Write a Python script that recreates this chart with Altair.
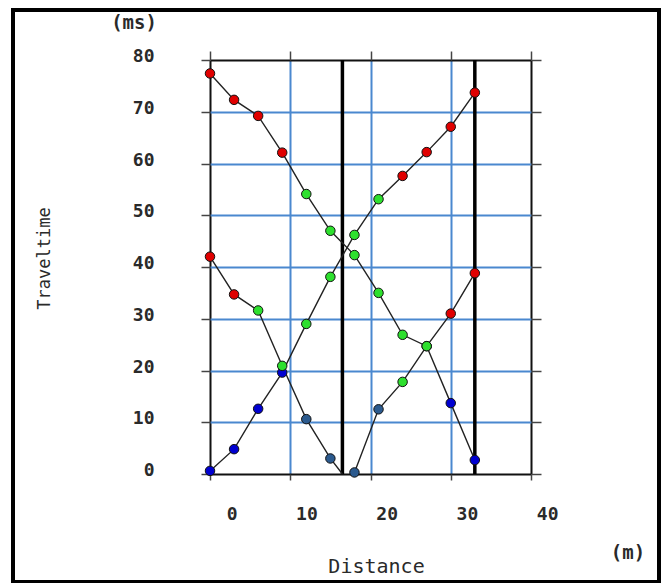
import altair as alt
import pandas as pd

# ---- data ----
dist = [0, 3, 6, 9, 12, 15, 18, 21, 24, 27, 30, 33]

t_a = [77.4, 72.3, 69.2, 62.1, 54.1, 47.0, 42.3, 35.0, 26.9, 24.7, 13.7, 2.7]
c_a = ["red", "red", "red", "red", "green", "green", "green", "green", "green", "green", "blue", "blue"]

t_b = [0.6, 4.8, 12.6, 19.6, 29.0, 38.1, 46.2, 53.1, 57.6, 62.2, 67.1, 73.7]
c_b = ["blue", "blue", "blue", "blue", "green", "green", "green", "green", "red", "red", "red", "red"]

dist_c = [0, 3, 6, 9, 12, 15, 16.5]
t_c = [42.0, 34.7, 31.6, 20.9, 10.6, 3.0, 0.0]
c_c = ["red", "red", "green", "green", "steel", "steel", ""]

dist_d = [18, 21, 24, 27, 30, 33]
t_d = [0.3, 12.5, 17.8, 24.7, 31.0, 38.8]
c_d = ["steel", "steel", "green", "green", "red", "red"]

shots = [16.5, 33]

x_ticks = [0, 10, 20, 30, 40]
y_ticks = [0, 10, 20, 30, 40, 50, 60, 70, 80]

classes = ["red", "green", "blue", "steel"]
class_colors = ["#e00000", "#2ee02e", "#0000d0", "#2b5a8e"]

rows = []
for name, xs, ts, cs in [("A", dist, t_a, c_a), ("B", dist, t_b, c_b),
                         ("C", dist_c, t_c, c_c), ("D", dist_d, t_d, c_d)]:
    for i, (x, t, c) in enumerate(zip(xs, ts, cs)):
        rows.append({"series": name, "x": x, "t": t, "cls": c, "i": i})
df = pd.DataFrame(rows)
shots_df = pd.DataFrame({"x": shots})

FONT = "DejaVu Sans Mono"
TXT = "#2a2a2a"
BLUE = "#4a88cf"

xs = alt.Scale(domain=[0, 40])
ys = alt.Scale(domain=[0, 80])

grid_x = {"condition": {"test": "datum.value == 0 || datum.value == 40", "value": "#111111"}, "value": BLUE}
grid_y = {"condition": {"test": "datum.value == 0 || datum.value == 80", "value": "#111111"}, "value": BLUE}

axes_main = alt.Chart(df).mark_point(opacity=0).encode(
    x=alt.X("x:Q", scale=xs, axis=alt.Axis(
        orient="bottom", values=x_ticks, grid=True, gridColor=grid_x, gridWidth=2,
        domain=False, tickSize=6, tickColor="#444", tickWidth=1.5,
        labelAlign="right", labelOffset=27, labelPadding=25, labelFont=FONT,
        labelFontSize=18, labelColor=TXT, labelFontWeight="bold",
        title="Distance", titleFont=FONT, titleFontSize=20, titleColor=TXT,
        titleFontWeight="normal", titleX=166, titleY=98, titleBaseline="alphabetic",
        titleAlign="center")),
    y=alt.Y("t:Q", scale=ys, axis=alt.Axis(
        orient="left", values=y_ticks, grid=True, gridColor=grid_y, gridWidth=2,
        domain=False, tickSize=9, tickColor="#444", tickWidth=1.5,
        labelPadding=47, labelOffset=-3.5, labelFont=FONT, labelFontSize=18,
        labelColor=TXT, labelFontWeight="bold",
        title="Traveltime", titleFont=FONT, titleFontSize=17, titleColor=TXT,
        titleFontWeight="normal", titleX=-161, titleY=198, titleAngle=270,
        titleBaseline="alphabetic", titleAlign="center")),
)

axes_opp = alt.Chart(df).mark_point(opacity=0).encode(
    x=alt.X("x:Q", scale=xs, axis=alt.Axis(
        orient="top", values=x_ticks, grid=False, domain=False, labels=False,
        tickSize=9, tickColor="#444", tickWidth=1.5, title=None)),
    y=alt.Y("t:Q", scale=ys, axis=alt.Axis(
        orient="right", values=y_ticks, grid=False, domain=False, labels=False,
        tickSize=10, tickColor="#444", tickWidth=1.5, title=None)),
)

rules = alt.Chart(shots_df).mark_rule(color="black", strokeWidth=3.5).encode(
    x=alt.X("x:Q", scale=xs, axis=None)
)

lines = alt.Chart(df).mark_line(color="#222222", strokeWidth=1.4).encode(
    x=alt.X("x:Q", scale=xs, axis=None),
    y=alt.Y("t:Q", scale=ys, axis=None),
    detail="series:N",
    order="i:Q",
)

points = alt.Chart(df).transform_filter("datum.cls != ''").mark_point(
    filled=True, size=90, stroke="#111111", strokeWidth=1, opacity=1
).encode(
    x=alt.X("x:Q", scale=xs, axis=None),
    y=alt.Y("t:Q", scale=ys, axis=None),
    fill=alt.Fill("cls:N", scale=alt.Scale(domain=classes, range=class_colors), legend=None),
)

one = pd.DataFrame({"a": [0]})
frame = alt.Chart(one).mark_rect(fillOpacity=0, stroke="black", strokeWidth=4).encode(
    x=alt.value(-197), x2=alt.value(449), y=alt.value(-50), y2=alt.value(522)
)
unit_ms = alt.Chart(one).mark_text(text="(ms)", font=FONT, fontSize=19, color=TXT,
                                    fontWeight="bold", align="center", baseline="middle").encode(
    x=alt.value(-76), y=alt.value(-37)
)
unit_m = alt.Chart(one).mark_text(text="(m)", font=FONT, fontSize=19, color=TXT,
                                   fontWeight="bold", align="center", baseline="middle").encode(
    x=alt.value(418), y=alt.value(493)
)

chart = alt.layer(axes_main, axes_opp, rules, lines, points, frame, unit_ms, unit_m).resolve_axis(
    x="independent", y="independent"
).properties(
    width=321, height=414,
    autosize=alt.AutoSizeParams(type="none"),
    padding={"left": 210, "top": 60, "right": 133, "bottom": 109},
    background="white",
).configure_view(strokeWidth=0)

chart.save("out.html", embed_options={"renderer": "svg", "actions": False})
